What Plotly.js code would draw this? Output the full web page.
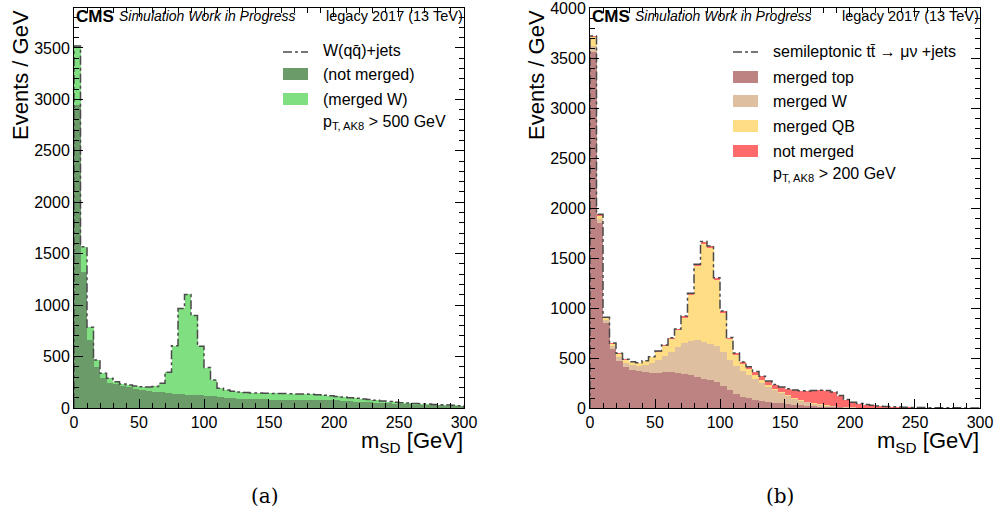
<!DOCTYPE html>
<html><head><meta charset="utf-8">
<script src="https://cdn.plot.ly/plotly-3.0.1.min.js"></script>
<style>html,body{margin:0;padding:0;background:#fff}</style>
</head><body>
<div id="chart" style="width:1002px;height:516px"></div>
<script>
// ---- data (5 GeV bins, 0-300 GeV) ----
const binWidth = 5;
const nBins = 60;
// Panel (a): W(qq)+jets, pT > 500 GeV
const wjetsNotMerged = [2950,1325,661,394,288,246,230,214,201,188,175,165,156,151,145,140,133,130,127,124,120,114,108,100,94,90,87,85,84,83,82,81,81,80,80,79,79,78,78,77,74,71,67,63,59,55,51,47,44,41,38,36,33,31,29,27,25,23,21,19];
const wjetsMergedW = [568,243,123,72,49,42,26,19,23,26,32,40,54,89,203,465,835,974,773,476,273,158,83,75,68,65,63,62,61,60,60,60,59,59,57,56,54,52,47,41,38,35,33,31,29,27,24,21,18,15,14,12,11,10,9,8,7,6,5,4];
// Panel (b): semileptonic ttbar, pT > 200 GeV
const ttMergedTop = [3560,1847,847,590,470,410,385,370,360,350,352,356,358,355,345,330,312,295,280,262,225,185,145,115,97,82,72,63,55,47,40,33,27,22,17,13,10,8,6,5,4,3,2,2,1,1,1,0,0,0,0,0,0,0,0,0,0,0,0,0];
const ttMergedW = [60,43,33,30,40,40,45,55,70,100,128,164,207,255,305,345,366,370,365,358,335,295,275,260,238,213,183,152,125,103,80,62,48,36,27,20,15,10,6,3,2,1,1,0,0,0,0,0,0,0,0,0,0,0,0,0,0,0,0,0];
const ttMergedQB = [90,35,20,25,33,33,28,23,38,58,82,100,127,168,255,455,742,980,955,665,395,210,115,65,55,40,30,20,15,10,10,10,8,7,6,5,3,2,2,2,1,1,1,1,1,1,0,1,0,0,0,0,0,0,0,0,0,0,0,0];
const ttNotMerged = [10,12,7,5,4,4,4,5,5,5,8,10,11,12,15,17,17,20,20,18,15,15,15,20,23,30,32,35,40,50,62,75,89,105,124,140,147,140,111,75,50,40,31,24,18,13,11,9,8,6,5,4,3,3,2,2,2,1,1,1];
const xTickVals = [0,50,100,150,200,250,300];
const yTickVals = [0,500,1000,1500,2000,2500,3000,3500,4000];

// ---- helpers ----
const W = 1002, H = 516;
const px = x => x / W, py = y => 1 - y / H;
const centers = Array.from({length:nBins}, (_,i) => i*binWidth + binWidth/2);
const edges = Array.from({length:nBins+1}, (_,i) => i*binWidth);
function sumArrays(...arrs){ return arrs[0].map((_,i)=>arrs.reduce((s,a)=>s+a[i],0)); }
function outline(tot){ return {x:[edges[0]].concat(edges), y:[0].concat(tot, [0])}; }

const C = {
  dkgreen:'#6b9b69', ltgreen:'#80df80',
  top:'#bd8282', w:'#debfa0', qb:'#ffdd85', nm:'#ff6b6b', line:'#4a4a4a'
};

function bar(y, color, xa, ya){
  return {type:'bar', x:centers, y:y, width:binWidth, xaxis:xa, yaxis:ya,
    marker:{color:color, line:{width:0}}, hoverinfo:'skip', showlegend:false};
}
function step(tot, xa, ya){
  const o = outline(tot);
  return {type:'scatter', mode:'lines', x:o.x, y:o.y, xaxis:xa, yaxis:ya,
    line:{shape:'hv', color:C.line, width:1.5, dash:'dashdot'}, hoverinfo:'skip', showlegend:false};
}

const totA = sumArrays(wjetsNotMerged, wjetsMergedW);
const totB = sumArrays(ttMergedTop, ttMergedW, ttMergedQB, ttNotMerged);

const data = [
  bar(wjetsNotMerged, C.dkgreen, 'x', 'y'),
  bar(wjetsMergedW, C.ltgreen, 'x', 'y'),
  step(totA, 'x', 'y'),
  bar(ttMergedTop, C.top, 'x2', 'y2'),
  bar(ttMergedW, C.w, 'x2', 'y2'),
  bar(ttMergedQB, C.qb, 'x2', 'y2'),
  bar(ttNotMerged, C.nm, 'x2', 'y2'),
  step(totB, 'x2', 'y2')
];

const FONT = 'Liberation Sans, Arial, Helvetica, sans-serif';
function xax(dom, anchor){
  return {domain:dom, anchor:anchor, range:[0,300.01], tickvals:xTickVals, ticks:'inside', ticklen:9, tickwidth:1,
    tickcolor:'#000', minor:{dtick:10, tick0:0, ticks:'inside', ticklen:5, tickcolor:'#000', tickwidth:1},
    showline:true, linecolor:'#000', linewidth:1, mirror:'ticks', showgrid:false, zeroline:false,
    ticklabeloverflow:'allow',
    tickfont:{family:FONT, size:16, color:'#000'}, fixedrange:true};
}
function yax(dom, anchor, top){
  return {domain:dom, anchor:anchor, range:[0,top], tickvals:yTickVals, ticks:'inside', ticklen:9, tickwidth:1,
    tickcolor:'#000', minor:{dtick:100, tick0:0, ticks:'inside', ticklen:5, tickcolor:'#000', tickwidth:1},
    showline:true, linecolor:'#000', linewidth:1, mirror:'ticks', showgrid:false, zeroline:false,
    ticklabeloverflow:'allow',
    tickfont:{family:FONT, size:16, color:'#000'}, fixedrange:true};
}

const ann = [];
const shapes = [];
function text(x, y, t, opt){
  ann.push(Object.assign({xref:'paper', yref:'paper', x:px(x), y:py(y), text:t, showarrow:false,
    xanchor:'left', yanchor:'middle', font:{family:FONT, size:16, color:'#000'}}, opt||{}));
}
function header(x0, x1){
  text(x0, 16, '<b>CMS</b>', {font:{family:FONT, size:17, color:'#000'}});
  text(x0+43, 16, '<i>Simulation Work in Progress</i>', {font:{family:FONT, size:14, color:'#000'}});
  text(x1+1, 16, 'legacy 2017 (13 TeV)', {xanchor:'right', font:{family:FONT, size:14.5, color:'#000'}});
}
function legLine(x, y){
  shapes.push({type:'line', xref:'paper', yref:'paper', x0:px(x), x1:px(x+25), y0:py(y), y1:py(y),
    line:{color:C.line, width:1.5, dash:'dashdot'}});
}
function legBox(x, y, color){
  shapes.push({type:'rect', xref:'paper', yref:'paper', x0:px(x), x1:px(x+25), y0:py(y-6), y1:py(y+6),
    fillcolor:color, line:{width:0}});
}
header(74, 464);
header(590, 980);

// legend (a)
legLine(283, 52); text(321, 51, 'W(qq\u0304)+jets');
legBox(283, 74, C.dkgreen); text(321, 74, '(not merged)');
legBox(283, 99, C.ltgreen); text(321, 99, '(merged W)');
text(321, 123, 'p<sub>T, AK8</sub> > 500 GeV');
// legend (b)
legLine(733, 52); text(771, 52, 'semileptonic tt\u0304 \u2192 \u03bc\u03bd +jets');
legBox(733, 77, C.top); text(771, 77, 'merged top');
legBox(733, 101, C.w); text(771, 101, 'merged W');
legBox(733, 126, C.qb); text(771, 126, 'merged QB');
legBox(733, 151, C.nm); text(771, 151, 'not merged');
text(771, 175, 'p<sub>T, AK8</sub> > 200 GeV');

// axis titles
const titleFont = {family:FONT, size:22, color:'#000'};
text(20, 8, 'Events / GeV', {textangle:-90, xanchor:'center', yanchor:'top', font:titleFont});
text(536, 8, 'Events / GeV', {textangle:-90, xanchor:'center', yanchor:'top', font:titleFont});
text(465, 442, 'm<sub>SD</sub> [GeV]', {xanchor:'right', font:titleFont});
text(981, 442, 'm<sub>SD</sub> [GeV]', {xanchor:'right', font:titleFont});
// captions
const capFont = {family:'DejaVu Serif, Liberation Serif, serif', size:20, color:'#000'};
text(265, 496, '(a)', {xanchor:'center', font:capFont});
text(780, 496, '(b)', {xanchor:'center', font:capFont});

const layout = {
  width:W, height:H, margin:{l:0, r:0, t:0, b:0},
  paper_bgcolor:'#fff', plot_bgcolor:'#fff',
  barmode:'stack', bargap:0, showlegend:false,
  xaxis: xax([px(74), px(464)], 'y'),
  yaxis: yax([py(408), py(8)], 'x', 3888),
  xaxis2: xax([px(590), px(980)], 'y2'),
  yaxis2: yax([py(408), py(8)], 'x2', 4000.5),
  annotations: ann, shapes: shapes
};
Plotly.newPlot('chart', data, layout, {staticPlot:true, displayModeBar:false});
</script>
</body></html>
